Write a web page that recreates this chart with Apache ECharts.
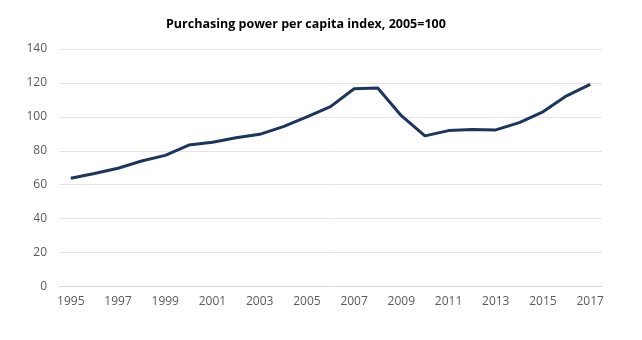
<!DOCTYPE html>
<html><head><meta charset="utf-8">
<script src="https://cdn.jsdelivr.net/npm/echarts@6/dist/echarts.min.js"></script>
<style>html,body{margin:0;padding:0;background:#fff}#c{width:642px;height:340px}</style>
</head><body><div id="c"></div>
<script>
const years = ['1995','1996','1997','1998','1999','2000','2001','2002','2003','2004','2005','2006','2007','2008','2009','2010','2011','2012','2013','2014','2015','2016','2017'];
const values = [63.8,66.6,69.7,74.0,77.3,83.4,85.0,87.7,89.7,94.2,100,106.0,116.6,117.0,100.7,88.8,91.9,92.5,92.3,96.6,103.0,112.4,119.2];
const titleText = 'Purchasing power per capita index, 2005=100';
const chart = echarts.init(document.getElementById('c'));
chart.setOption({
  animation:false,
  title:{text:titleText,left:161,top:13,textStyle:{fontFamily:'Open Sans',fontSize:12.5,fontWeight:'bold',color:'#000'}},
  grid:{left:59,right:40,top:49,bottom:53.5},
  xAxis:{type:'category',data:years,boundaryGap:true,
    axisLine:{lineStyle:{color:'#d9d9d9'}},axisTick:{show:false},
    axisLabel:{interval:1,color:'#595959',fontFamily:'Open Sans',fontSize:12,margin:9}},
  yAxis:{type:'value',min:0,max:140,interval:20,
    axisLine:{show:false},axisTick:{show:false},
    splitLine:{lineStyle:{color:'#e4e4e4'}},
    axisLabel:{color:'#595959',fontFamily:'Open Sans',fontSize:12,margin:12}},
  series:[{type:'line',data:values,symbol:'none',lineStyle:{color:'#1c355e',width:3}}]
});
</script></body></html>
